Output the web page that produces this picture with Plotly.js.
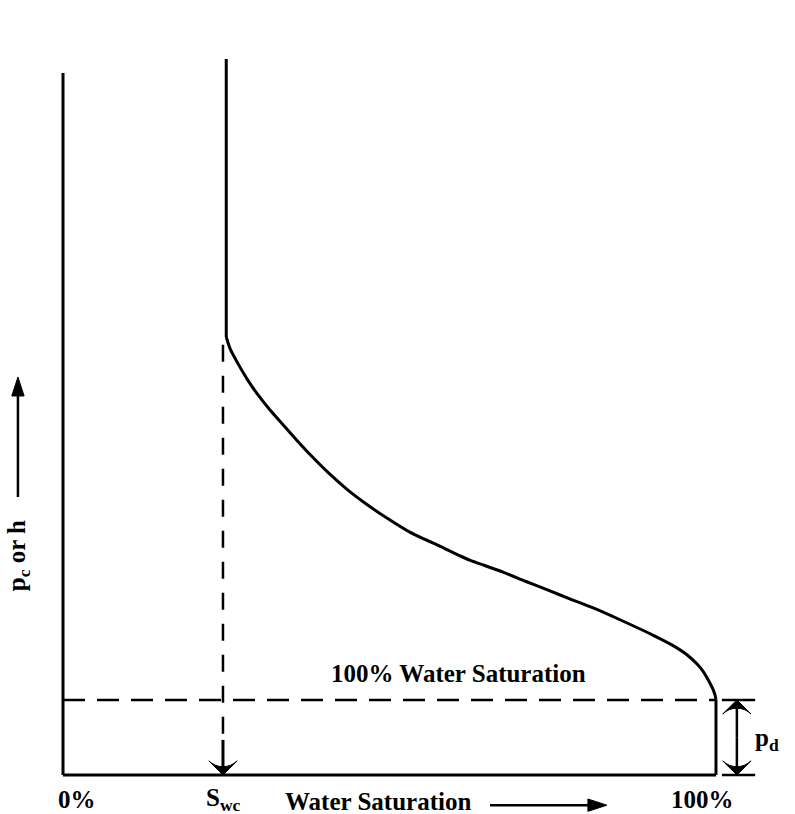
<!DOCTYPE html>
<html>
<head>
<meta charset="utf-8">
<script src="https://cdn.plot.ly/plotly-3.0.1.min.js"></script>
<style>html,body{margin:0;padding:0;background:#fff;}#chart{width:795px;height:814px;}</style>
</head>
<body>
<div id="chart"></div>
<script>
// Water saturation (%) and capillary pressure (relative units)
const swc = 25;            // irreducible water saturation, %
const swcDash = 24.5;      // dashed drop line position
const pd = 10.7;           // displacement pressure
const pcTop = 102;         // top of the vertical branch at Swc
const axisTop = 100;       // top of the pc axis line

const curveSw = [25.0, 25.6, 26.8, 28.2, 29.9, 31.7, 33.7, 35.8, 38.1, 40.7, 43.5, 46.6, 49.6, 53.1, 57.7,
                 62.3, 67.4, 70.8, 74.1, 77.6, 81.2, 85.8, 90.4, 93.3, 95.6, 97.1, 98.0, 98.9, 99.5, 99.85, 100];
const curvePc = [62.4, 60.7, 58.6, 56.4, 54.1, 52.0, 49.9, 47.7, 45.4, 43.0, 40.7, 38.5, 36.6, 34.6, 32.6,
                 30.6, 28.9, 27.6, 26.4, 25.1, 23.8, 21.9, 19.9, 18.5, 17.1, 15.8, 14.8, 13.4, 12.3, 11.4, 10.7];

const axisLabelsX = ['0%', 'S<sub>wc</sub>', '100%'];
const axisLabelPos = [2.1, 24.6, 97.9];

const font = {family: 'Liberation Serif', color: '#000', size: 25};
const blk = '#000';

function seg(x, y, w, dash) {
  return {x: x, y: y, mode: 'lines', line: {color: blk, width: w, dash: dash || 'solid'}};
}
function arrow(x, y, w, sym, sz) {
  return {x: x, y: y, mode: 'lines+markers', opacity: 1, line: {color: blk, width: w},
          marker: {symbol: sym, angleref: 'previous', size: [0, sz], color: blk, opacity: 1,
                   line: {width: 1, color: blk}}};
}

const traces = [
  seg([0, 0], [0, axisTop], 3),                       // pc axis
  seg([0, 100], [0, 0], 3),                           // Sw axis
  seg([swc, swc], [pcTop, curvePc[0]], 3),            // vertical branch at Swc
  {x: curveSw, y: curvePc, mode: 'lines', line: {color: blk, width: 3, shape: 'spline', smoothing: 0.5}},
  seg([100, 100], [pd, 0], 3),                        // 100% Sw below pd
  seg([0, 100], [pd, pd], 2.5, '22px,12px'),          // 100% water saturation level
  seg([swcDash, swcDash], [61.3, 4], 2.5, '17px,14px'), // drop to Swc
  seg([100.9, 106], [pd, pd], 2.5),                   // pd ticks
  seg([100.9, 106], [0, 0], 2.5),
  arrow([swcDash, swcDash], [5, 0], 3, 'arrow-wide', 20),
  arrow([103.2, 103.2], [5.3, pd], 2.5, 'arrow-wide', 20),
  arrow([103.2, 103.2], [5.3, 0], 2.5, 'arrow-wide', 20),
  arrow([65.4, 83.3], [-4.3, -4.3], 2.5, 'arrow', 20),
  arrow([-6.9, -6.9], [39.6, 56.7], 2.5, 'arrow', 20)
];
traces.forEach(t => { t.hoverinfo = 'skip'; t.showlegend = false; t.cliponaxis = false; });

const annotations = [];
axisLabelsX.forEach((t, i) => annotations.push({
  x: axisLabelPos[i], y: -3.5, xref: 'x', yref: 'y', text: '<b>' + t + '</b>',
  showarrow: false, font: font, borderpad: 0
}));
annotations.push(
  {x: 48.3, y: -3.8, xref: 'x', yref: 'y', text: '<b>Water Saturation</b>', showarrow: false, font: font, borderpad: 0},
  {x: 60.5, y: 14.5, xref: 'x', yref: 'y', text: '<b>100% Water Saturation</b>', showarrow: false, font: font, borderpad: 0},
  {x: 107.8, y: 5.0, xref: 'x', yref: 'y', text: '<b>p<sub>d</sub></b>', showarrow: false, font: font, borderpad: 0},
  {x: -6.9, y: 31.3, xref: 'x', yref: 'y', text: '<b>p<sub>c</sub> or h</b>', textangle: -90, showarrow: false, font: font, borderpad: 0}
);

const layout = {
  width: 795, height: 814,
  margin: {l: 0, r: 0, t: 0, b: 0, pad: 0},
  paper_bgcolor: '#fff', plot_bgcolor: '#fff',
  xaxis: {range: [-9.648, 112.1], visible: false, fixedrange: true},
  yaxis: {range: [-5.556, 110.4], visible: false, fixedrange: true},
  showlegend: false,
  annotations: annotations
};

Plotly.newPlot('chart', traces, layout, {staticPlot: true, displayModeBar: false});
</script>
</body>
</html>
